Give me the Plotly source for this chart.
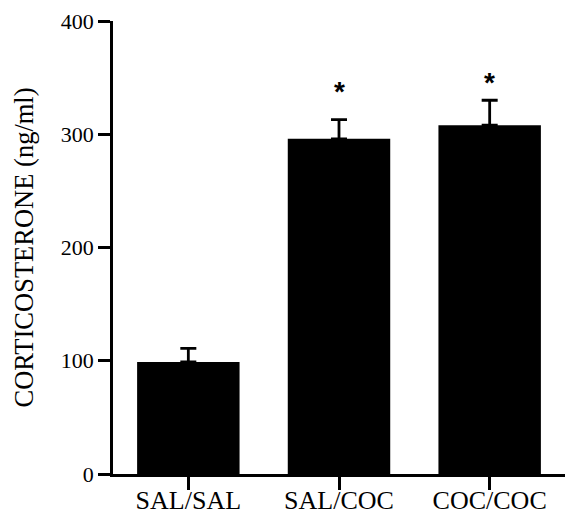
import plotly.graph_objects as go

groups = ["SAL/SAL", "SAL/COC", "COC/COC"]
corticosterone = [99, 296, 308]
sem = [12, 17, 22]
signif = ["", "*", "*"]
star_y = [None, 344, 352]

serif = "Liberation Serif, Times New Roman, serif"

fig = go.Figure()
fig.add_trace(go.Bar(
    x=groups,
    y=corticosterone,
    width=0.68,
    marker=dict(color="black", line=dict(width=0)),
    error_y=dict(type="data", symmetric=False, array=sem,
                 arrayminus=[0, 0, 0], color="black",
                 thickness=2.8, width=8),
))

for g, s, yy in zip(groups, signif, star_y):
    if s:
        fig.add_annotation(x=g, y=yy, text="<b>" + s + "</b>", showarrow=False,
                           yanchor="middle", yshift=-7,
                           font=dict(family="Liberation Sans, Arial, sans-serif",
                                     size=28, color="black"))

fig.update_layout(
    width=565, height=517,
    margin=dict(l=113, r=0, t=21, b=43),
    plot_bgcolor="white", paper_bgcolor="white",
    showlegend=False,
)
fig.update_xaxes(
    range=[-0.5, 2.5], automargin=False,
    showline=True, linecolor="black", linewidth=2.6,
    ticks="outside", ticklen=13, tickwidth=2.6, tickcolor="black",
    tickfont=dict(family=serif, size=26, color="black"),
    ticklabelstandoff=-12,
    showgrid=False, zeroline=False,
)
fig.update_yaxes(
    range=[0, 400], tickvals=[0, 100, 200, 300, 400], automargin=False,
    showline=True, linecolor="black", linewidth=2.6,
    ticks="outside", ticklen=12, tickwidth=2.6, tickcolor="black",
    tickfont=dict(family=serif, size=22, color="black"),
    title=dict(text="CORTICOSTERONE (ng/ml)",
               font=dict(family=serif, size=26.5, color="black"),
               standoff=20),
    showgrid=False, zeroline=False,
)

fig.write_html("out.html")
